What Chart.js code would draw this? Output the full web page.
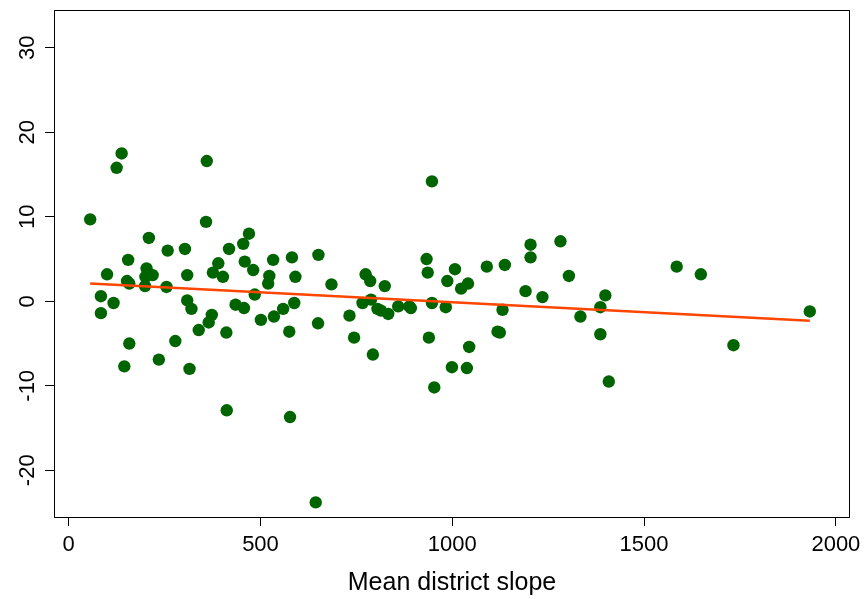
<!DOCTYPE html>
<html>
<head>
<meta charset="utf-8">
<script src="https://cdn.jsdelivr.net/npm/chart.js@4.4.1/dist/chart.umd.min.js"></script>
<style>
  html, body { margin: 0; padding: 0; background: #ffffff; }
  #wrap { width: 868px; height: 599px; }
</style>
</head>
<body>
<div id="wrap"><canvas id="c" width="868" height="599"></canvas></div>
<script>
// Mean district slope (x) and residual values (y)
const slopeX = [
  56, 125, 138, 360, 358, 209, 155, 100, 152, 158,
  203, 200, 219, 199, 258, 255, 303, 309, 376, 390,
  402, 418, 455, 470, 459, 481, 485, 533, 523, 520,
  582, 591, 588, 84, 84, 117, 158, 145, 235, 278,
  315, 309, 320, 373, 365, 339, 411, 412, 435, 457,
  501, 535, 559, 575, 577, 651, 685, 650, 644, 774,
  786, 824, 788, 766, 732, 744, 793, 805, 814, 833,
  859, 888, 892, 933, 936, 947, 939, 953, 947, 983,
  987, 1007, 1023, 1041, 1044, 999, 1038, 1090, 1137, 1131,
  1118, 1124, 1191, 1235, 1204, 1204, 1282, 1304, 1334, 1386,
  1399, 1386, 1408, 1585, 1648, 1733, 1932
];
const residY = [
  9.7, 15.8, 17.5, 16.6, 9.4, 7.5, 4.9, 3.2, 2.4, 2.1,
  3.9, 2.9, 3.1, 1.8, 6.0, 1.7, 6.2, 3.1, 3.4, 4.5,
  2.9, 6.2, 6.8, 8.0, 4.7, 3.7, 0.8, 4.9, 3.0, 2.1,
  5.2, 2.9, -0.2, 0.6, -1.4, -0.2, -5.0, -7.7, -6.9, -4.7,
  -8.0, 0.1, -0.9, -1.6, -2.5, -3.4, -3.7, -12.9, -0.4, -0.8,
  -2.2, -1.8, -0.9, -3.6, -13.7, 5.5, 2.0, -2.6, -23.8, 3.2,
  2.4, 1.8, 0.2, -0.2, -1.7, -4.3, -6.3, -0.9, -1.1, -1.5,
  -0.6, -0.6, -0.8, 5.0, 3.4, -0.2, -4.3, -10.2, 14.2, -0.7,
  2.4, 3.8, 1.5, 2.1, -5.4, -7.8, -7.9, 4.1, 4.3, -1.0,
  -3.6, -3.7, 1.2, 0.5, 6.7, 5.2, 7.1, 3.0, -1.8, -0.7,
  0.7, -3.9, -9.5, 4.1, 3.2, -5.2, -1.2
];
// Fitted line endpoints
const fitX = [56, 1932];
const fitY = [2.1, -2.3];
// Tick labels
const xTicks = [0, 500, 1000, 1500, 2000];
const yTicks = [-20, -10, 0, 10, 20, 30];
const xTitle = 'Mean district slope';

const FONT = '"Liberation Sans", Arial, Helvetica, sans-serif';

const scatterPts = slopeX.map((x, i) => ({ x: x, y: residY[i] }));
const linePts = fitX.map((x, i) => ({ x: x, y: fitY[i] }));

const frame = {
  id: 'frame',
  afterDraw(chart) {
    const ctx = chart.ctx;
    const a = chart.chartArea;
    ctx.save();
    ctx.strokeStyle = '#000';
    ctx.lineWidth = 1;
    ctx.strokeRect(Math.round(a.left) + 0.5, Math.round(a.top) + 0.5,
                   Math.round(a.right - a.left) - 1, Math.round(a.bottom - a.top));
    // rotated y tick labels
    const ys = chart.scales.y;
    ctx.fillStyle = '#000';
    ctx.font = '22px ' + FONT;
    ctx.textAlign = 'center';
    ctx.textBaseline = 'alphabetic';
    ys.ticks.forEach(t => {
      const py = ys.getPixelForValue(t.value);
      ctx.save();
      ctx.translate(33.5, py);
      ctx.rotate(-Math.PI / 2);
      ctx.fillText(String(t.value), 0, 0);
      ctx.restore();
    });
    ctx.restore();
  }
};

new Chart(document.getElementById('c'), {
  type: 'scatter',
  data: {
    datasets: [
      {
        type: 'line',
        data: linePts,
        borderColor: '#FF4500',
        borderWidth: 2.5,
        pointRadius: 0,
        fill: false,
        showLine: true,
        tension: 0
      },
      {
        data: scatterPts,
        backgroundColor: '#006400',
        borderColor: '#006400',
        borderWidth: 0,
        pointRadius: 6.2,
        pointHoverRadius: 6.2
      }
    ]
  },
  options: {
    responsive: false,
    animation: false,
    devicePixelRatio: 1,
    layout: { padding: { left: 0, right: 18, top: 10, bottom: 0 } },
    plugins: {
      legend: { display: false },
      tooltip: { enabled: false }
    },
    scales: {
      x: {
        type: 'linear',
        min: -38.3,
        max: 2036.8,
        afterBuildTicks: s => { s.ticks = xTicks.map(v => ({ value: v })); },
        afterFit: s => { s.height = 82; },
        ticks: {
          color: '#000',
          font: { family: FONT, size: 22 },
          padding: 6,
          maxRotation: 0,
          minRotation: 0,
          callback: v => String(v)
        },
        grid: {
          display: true,
          drawOnChartArea: false,
          drawTicks: true,
          tickLength: 9,
          color: '#000',
          lineWidth: 1
        },
        border: { display: false },
        title: {
          display: true,
          text: xTitle,
          color: '#000',
          font: { family: FONT, size: 25 },
          padding: { top: 0, bottom: 1 }
        }
      },
      y: {
        type: 'linear',
        min: -25.53,
        max: 34.48,
        afterBuildTicks: s => { s.ticks = yTicks.map(v => ({ value: v })); },
        afterFit: s => { s.width = 54; },
        ticks: { display: false },
        grid: {
          display: true,
          drawOnChartArea: false,
          drawTicks: true,
          tickLength: 9,
          color: '#000',
          lineWidth: 1
        },
        border: { display: false }
      }
    }
  },
  plugins: [frame]
});
</script>
</body>
</html>
